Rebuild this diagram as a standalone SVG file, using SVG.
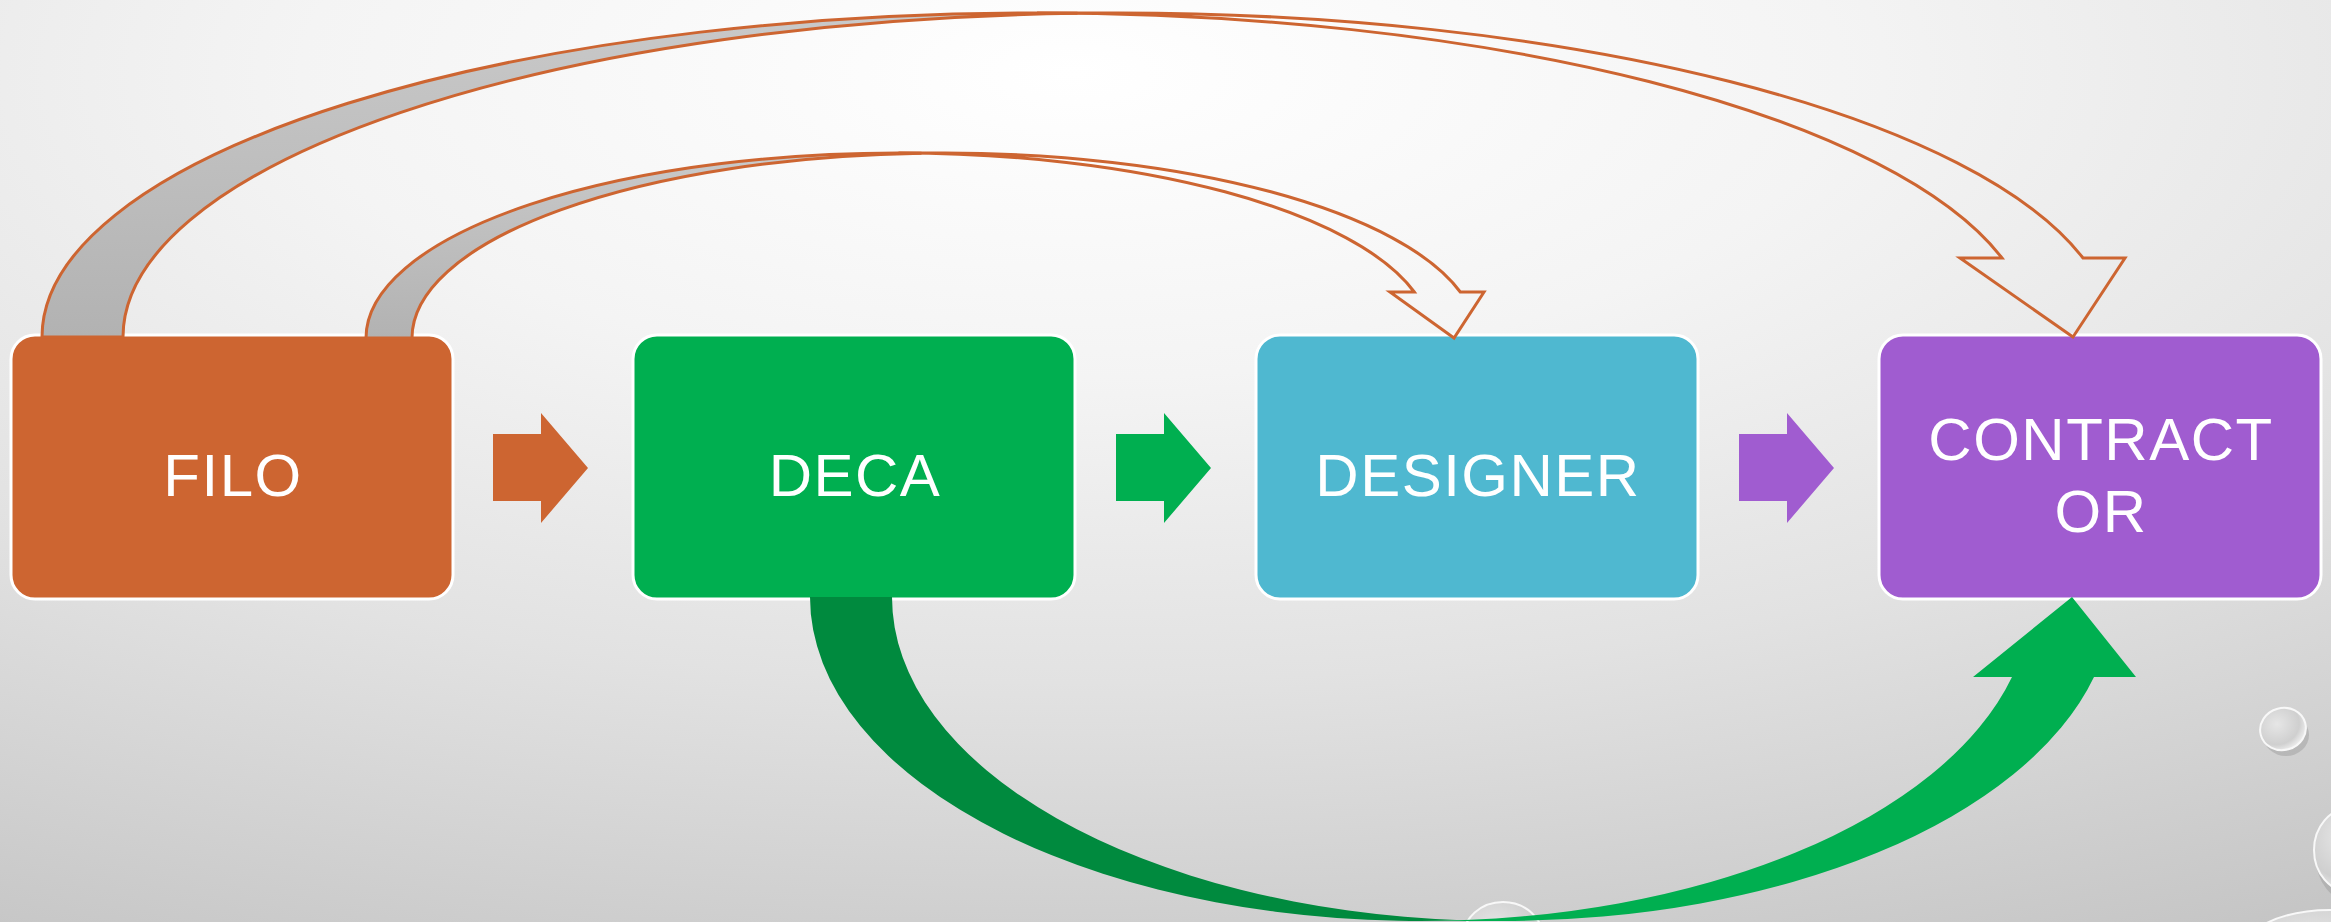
<svg xmlns="http://www.w3.org/2000/svg" width="2331" height="922" viewBox="0 0 2331 922">
<defs>
<radialGradient id="bg" cx="0.46" cy="0.08" r="1.1">
<stop offset="0" stop-color="#FFFFFF"/>
<stop offset="0.3" stop-color="#F4F4F4"/>
<stop offset="0.6" stop-color="#E2E2E2"/>
<stop offset="1" stop-color="#C2C2C2"/>
</radialGradient>
<linearGradient id="back" x1="0" y1="0" x2="0" y2="1">
<stop offset="0" stop-color="#C9C9C9"/>
<stop offset="1" stop-color="#B2B2B2"/>
</linearGradient>
<radialGradient id="drop" cx="0.4" cy="0.35" r="0.7">
<stop offset="0" stop-color="#E6E6E6"/>
<stop offset="0.7" stop-color="#CFCFCF"/>
<stop offset="1" stop-color="#F4F4F4"/>
</radialGradient>
<style>
.box{stroke:#FFFFFF;stroke-width:3}
.lbl{font-family:"Liberation Sans",Arial,sans-serif;font-size:60px;fill:#FFFFFF;text-anchor:middle;letter-spacing:1.5px}
.oline{fill:none;stroke:#CD6531;stroke-width:3;stroke-linejoin:miter}
.oback{fill:url(#back);stroke:#CD6531;stroke-width:3}
.drop{fill:url(#drop);stroke:#F8F8F8;stroke-width:2}
.shadow{fill:#9A9A9A;opacity:0.45}
</style>
</defs>
<rect width="2331" height="922" fill="url(#bg)"/>
<g id="droplets">
<ellipse class="shadow" cx="2286" cy="735" rx="23" ry="21"/>
<ellipse class="drop" cx="2283" cy="729" rx="23" ry="21" transform="rotate(-15 2283 729)"/>
<ellipse class="shadow" cx="2352" cy="858" rx="36" ry="44"/>
<ellipse class="drop" cx="2350" cy="850" rx="36" ry="42"/>
<ellipse class="drop" cx="1503" cy="938" rx="40" ry="36"/>
<ellipse class="drop" cx="2330" cy="955" rx="90" ry="45"/>
</g>
<g id="node-filo">
<rect class="box" x="11" y="335" width="442" height="264" rx="24" fill="#CD6531"/>
<text class="lbl" x="233" y="496">FILO</text>
</g>
<g id="node-deca">
<rect class="box" x="633" y="335" width="442" height="264" rx="24" fill="#00AF50"/>
<text class="lbl" x="855" y="496">DECA</text>
</g>
<g id="node-designer">
<rect class="box" x="1256" y="335" width="442" height="264" rx="24" fill="#4FB8D0"/>
<text class="lbl" x="1478" y="496">DESIGNER</text>
</g>
<g id="node-contractor">
<rect class="box" x="1879" y="335" width="442" height="264" rx="24" fill="#A05CD0"/>
<text class="lbl" x="2101" y="460">CONTRACT</text>
<text class="lbl" x="2101" y="532">OR</text>
</g>
<g id="connectors">
<polygon points="493,434 541,434 541,413 588,468 541,523 541,501 493,501" fill="#CD6531"/>
<polygon points="1116,434 1164,434 1164,413 1211,468 1164,523 1164,501 1116,501" fill="#00AF50"/>
<polygon points="1739,434 1787,434 1787,413 1834,468 1787,523 1787,501 1739,501" fill="#A05CD0"/>
<path class="oback" d="M 42 337 A 995 324 0 0 1 1077.5 13.3 A 995 324 0 0 0 123 337 Z"/>
<path class="oline" d="M 2073 337 L 1960 258 L 2002 258 A 995 324 0 0 0 1037 13 L 1118 13 A 995 324 0 0 1 2083 258 L 2125 258 Z"/>
<path class="oback" d="M 366 338 A 532.5 185 0 0 1 921.5 153.2 A 532.5 185 0 0 0 412 338 Z"/>
<path class="oline" d="M 1454 338 L 1390 292 L 1414.3 292 A 532.5 185 0 0 0 898.5 153 L 944.5 153 A 532.5 185 0 0 1 1460.3 292 L 1484 292 Z"/>
<path d="M 810 597 A 610.5 324 0 0 0 1461.5 920.3 A 610.5 324 0 0 1 892 597 Z" fill="#008A3E"/>
<path d="M 2072 597 L 2136 677 L 2094 677 A 610.5 324 0 0 1 1502.5 921 L 1420.5 921 A 610.5 324 0 0 0 2012 677 L 1973 677 Z" fill="#00AF50"/>
</g>
</svg>
